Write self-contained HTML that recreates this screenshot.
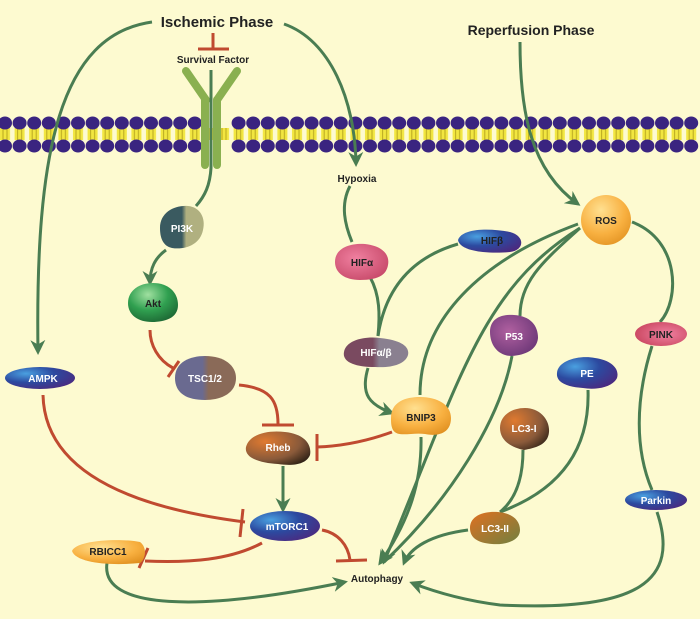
<!DOCTYPE html>
<html><head><meta charset="utf-8"><style>
html,body{margin:0;padding:0;background:#fdfad0;}
svg{display:block;font-family:"Liberation Sans",sans-serif;font-weight:bold;}
</style></head><body>
<svg width="700" height="619" viewBox="0 0 700 619" xmlns="http://www.w3.org/2000/svg">
<defs>
<pattern id="mem" x="-2" y="0" width="14.6" height="40" patternUnits="userSpaceOnUse">
<rect x="2" y="8" width="10" height="12" fill="#f2e640"/>
<line x1="5" y1="8" x2="5" y2="20" stroke="#b8a820" stroke-width="1"/>
<line x1="9" y1="8" x2="9" y2="20" stroke="#b8a820" stroke-width="1"/>
</pattern>
<marker id="ah" viewBox="0 0 10 10" refX="8" refY="5" markerWidth="5" markerHeight="5" orient="auto"><path d="M0,0 L10,5 L0,10 L3,5 z" fill="#4a7d52"/></marker>
<radialGradient id="gBlue" cx="0.3" cy="0.3" r="0.8"><stop offset="0" stop-color="#4aa0e0"/><stop offset="0.5" stop-color="#2c4aa0"/><stop offset="1" stop-color="#4a2a80"/></radialGradient>
<radialGradient id="gOr" cx="0.4" cy="0.3" r="0.8"><stop offset="0" stop-color="#ffe090"/><stop offset="0.6" stop-color="#f8b040"/><stop offset="1" stop-color="#e09020"/></radialGradient>
<radialGradient id="gBr" cx="0.3" cy="0.3" r="0.9"><stop offset="0" stop-color="#e07a30"/><stop offset="0.6" stop-color="#8a5a3a"/><stop offset="1" stop-color="#201810"/></radialGradient>
<radialGradient id="gGr" cx="0.4" cy="0.3" r="0.8"><stop offset="0" stop-color="#a0e0a0"/><stop offset="0.5" stop-color="#30a050"/><stop offset="1" stop-color="#1a6030"/></radialGradient>
<radialGradient id="gPk" cx="0.4" cy="0.4" r="0.8"><stop offset="0" stop-color="#f080a0"/><stop offset="1" stop-color="#c04060"/></radialGradient>
<radialGradient id="gPu" cx="0.4" cy="0.4" r="0.8"><stop offset="0" stop-color="#b060a0"/><stop offset="1" stop-color="#603070"/></radialGradient>
<radialGradient id="gRd" cx="0.6" cy="0.5" r="0.8"><stop offset="0" stop-color="#f080a0"/><stop offset="1" stop-color="#c03850"/></radialGradient>
<linearGradient id="gLC" x1="0" y1="0" x2="1" y2="1"><stop offset="0" stop-color="#e07020"/><stop offset="1" stop-color="#708040"/></linearGradient>
<linearGradient id="gTSC" x1="0" y1="0" x2="1" y2="0"><stop offset="0.45" stop-color="#6a6a90"/><stop offset="0.55" stop-color="#8a6a58"/></linearGradient>
<linearGradient id="gPI" x1="0" y1="0" x2="1" y2="0"><stop offset="0.5" stop-color="#3a5a60"/><stop offset="0.6" stop-color="#b0b080"/></linearGradient>
<linearGradient id="gHab" x1="0" y1="0" x2="1" y2="0"><stop offset="0.45" stop-color="#7a4a60"/><stop offset="0.55" stop-color="#8a8090"/></linearGradient>
</defs>

<!-- membrane -->
<rect x="0" y="120" width="700" height="30" fill="url(#mem)"/>
<g fill="#3a2480">
<script></script>
</g>
<g id="dots"></g>

<!-- receptor -->
<g stroke="#8ab050" stroke-linecap="round" fill="none">
<line x1="186" y1="71" x2="206" y2="100" stroke-width="8"/>
<line x1="237" y1="71" x2="217" y2="100" stroke-width="8"/>
<line x1="205" y1="100" x2="205" y2="165" stroke-width="8"/>
<line x1="217" y1="100" x2="217" y2="165" stroke-width="8"/>
</g>

<!-- green arrows -->
<g stroke="#4a7d52" stroke-width="3" fill="none">
<path d="M152,22 C60,35 35,150 38,352" marker-end="url(#ah)"/>
<path d="M284,24 C330,40 355,100 356,164" marker-end="url(#ah)"/>
<path d="M520,42 C520,110 530,170 578,204" marker-end="url(#ah)"/>
<path d="M211,70 L211,168 C210,185 205,196 196,206"/>
<path d="M166,250 C155,258 150,268 150,283" marker-end="url(#ah)"/>
<path d="M350,186 C340,205 345,225 352,242"/>
<path d="M370,277 C380,295 380,315 378,336"/>
<path d="M458,244 C410,258 385,290 378,336"/>
<path d="M368,368 C360,395 370,405 392,413" marker-end="url(#ah)"/>
<path d="M421,437 C422,480 410,520 380,563" marker-end="url(#ah)"/>
<path d="M578,224 C480,260 420,320 420,395"/>
<path d="M580,228 C480,290 460,380 384,562" marker-end="url(#ah)"/>
<path d="M580,228 C545,260 520,280 520,316"/>
<path d="M512,356 C500,420 450,500 384,562"/>
<path d="M523,450 C523,480 515,500 500,512"/>
<path d="M588,390 C590,450 560,490 500,512"/>
<path d="M468,530 C430,535 410,548 404,563" marker-end="url(#ah)"/>
<path d="M632,222 C680,240 680,300 660,322"/>
<path d="M652,346 C635,400 635,450 652,490"/>
<path d="M657,512 C680,580 640,612 500,605 C460,600 430,590 412,583" marker-end="url(#ah)"/>
<path d="M107,563 C100,610 200,612 345,582" marker-end="url(#ah)"/>
<path d="M283,466 L283,510" marker-end="url(#ah)"/>
</g>

<!-- red inhibitors -->
<g stroke="#c04a30" stroke-width="3" fill="none">
<line x1="213" y1="33" x2="213" y2="48"/><line x1="198" y1="49" x2="229" y2="49"/>
<path d="M150,330 C150,345 158,360 173,368"/><line x1="179" y1="361" x2="168" y2="377"/>
<path d="M239,385 C270,388 278,400 278,424"/><line x1="262" y1="425" x2="294" y2="425"/>
<path d="M392,432 C370,440 345,446 317,447"/><line x1="317" y1="434" x2="317" y2="461"/>
<path d="M43,395 C45,480 150,510 245,522"/><line x1="243" y1="509" x2="240" y2="537"/>
<path d="M262,543 C230,560 190,563 145,561"/><line x1="148" y1="548" x2="139" y2="568"/>
<path d="M322,530 C338,533 348,545 350,560"/><line x1="336" y1="561" x2="367" y2="560"/>
</g>

<!-- nodes -->
<g>
<path d="M160,228 C160,212 175,205 188,206 C200,207 206,218 203,230 C200,245 185,250 172,248 C163,246 160,238 160,228Z" fill="url(#gPI)"/>
<path d="M128,303 C128,290 140,283 153,283 C168,283 178,292 178,305 C178,318 165,322 152,322 C138,322 128,315 128,303Z" fill="url(#gGr)"/>
<path d="M175,378 C175,362 190,356 205,356 C225,356 236,366 236,378 C236,394 220,400 205,400 C185,400 175,392 175,378Z" fill="url(#gTSC)"/>
<path d="M246,447 C250,433 270,430 285,432 C305,434 312,445 310,455 C306,465 292,466 278,464 C260,463 244,458 246,447Z" fill="url(#gBr)"/>
<ellipse cx="285" cy="526" rx="35" ry="15" fill="url(#gBlue)"/>
<ellipse cx="40" cy="378" rx="35" ry="11" fill="url(#gBlue)"/>
<path d="M72,551 C76,540 120,538 140,542 C148,548 145,560 140,563 C110,566 76,563 72,551Z" fill="url(#gOr)"/>
<path d="M335,262 C335,248 350,243 365,244 C383,246 390,255 388,265 C386,277 375,280 360,280 C345,280 335,273 335,262Z" fill="url(#gPk)"/>
<path d="M458,240 C462,228 490,228 510,232 C525,236 525,250 510,252 C490,254 460,252 458,240Z" fill="url(#gBlue)"/>
<path d="M344,352 C346,340 365,336 380,338 C400,340 410,346 408,355 C405,365 390,368 375,367 C355,367 342,362 344,352Z" fill="url(#gHab)"/>
<path d="M391,418 C391,402 405,397 420,397 C438,397 451,405 451,418 C451,432 440,437 425,434 C412,432 398,438 393,430 C391,426 391,422 391,418Z" fill="url(#gOr)"/>
<circle cx="606" cy="220" r="25" fill="url(#gOr)"/>
<path d="M490,332 C490,318 502,314 514,315 C530,316 538,325 538,338 C537,350 525,355 512,356 C498,356 490,345 490,332Z" fill="url(#gPu)"/>
<path d="M557,373 C558,360 580,355 595,358 C610,360 620,368 617,378 C612,388 595,390 583,388 C568,387 556,383 557,373Z" fill="url(#gBlue)"/>
<path d="M500,428 C500,415 512,408 525,408 C540,408 550,420 549,432 C548,445 535,448 524,450 C510,447 500,440 500,428Z" fill="url(#gBr)"/>
<path d="M470,528 C470,515 485,511 498,512 C512,513 520,520 520,530 C520,541 505,545 492,544 C478,543 470,538 470,528Z" fill="url(#gLC)"/>
<ellipse cx="661" cy="334" rx="26" ry="12" fill="url(#gRd)"/>
<ellipse cx="656" cy="500" rx="31" ry="10" fill="url(#gBlue)"/>
</g>

<!-- labels -->
<g font-size="10" fill="#fff" text-anchor="middle">
<text x="182" y="232">PI3K</text>
<text x="153" y="307" fill="#222">Akt</text>
<text x="205" y="382">TSC1/2</text>
<text x="278" y="451">Rheb</text>
<text x="287" y="530">mTORC1</text>
<text x="43" y="382">AMPK</text>
<text x="108" y="555" fill="#222">RBICC1</text>
<text x="362" y="266" fill="#222">HIFα</text>
<text x="492" y="244" fill="#222">HIFβ</text>
<text x="376" y="356">HIFα/β</text>
<text x="421" y="421" fill="#222">BNIP3</text>
<text x="606" y="224" fill="#222">ROS</text>
<text x="514" y="340">P53</text>
<text x="587" y="377">PE</text>
<text x="524" y="432">LC3-I</text>
<text x="495" y="532">LC3-II</text>
<text x="661" y="338" fill="#222">PINK</text>
<text x="656" y="504">Parkin</text>
</g>
<g fill="#222" text-anchor="middle">
<text x="217" y="27" font-size="15">Ischemic Phase</text>
<text x="531" y="35" font-size="14">Reperfusion Phase</text>
<text x="213" y="63" font-size="10">Survival Factor</text>
<text x="357" y="182" font-size="10">Hypoxia</text>
<text x="377" y="582" font-size="10">Autophagy</text>
</g>
</svg>
<script>
(function(){var g=document.getElementById('dots'),ns='http://www.w3.org/2000/svg';
for(var x=5;x<705;x+=14.6){if(x>198&&x<224)continue;[123,146].forEach(function(y){var c=document.createElementNS(ns,'ellipse');c.setAttribute('cx',x);c.setAttribute('cy',y);c.setAttribute('rx',7);c.setAttribute('ry',6.5);c.setAttribute('fill','#3a2480');g.appendChild(c);});}
g.parentNode.insertBefore(g,g.parentNode.querySelector('g[stroke="#8ab050"]'));})();
</script>
</body></html>
